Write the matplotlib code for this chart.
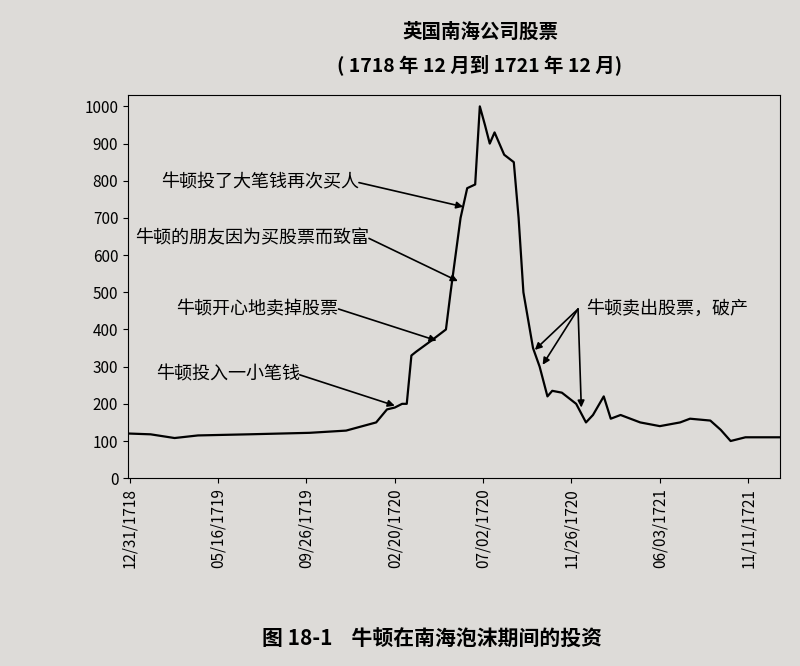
import matplotlib.pyplot as plt
import numpy as np
from datetime import date

plt.rcParams['font.family'] = ['Noto Sans CJK SC', 'DejaVu Sans']

dates = ['1718-12-31', '1719-02-01', '1719-03-10', '1719-04-15', '1719-07-01', '1719-10-01',
         '1719-12-01', '1720-01-20', '1720-02-07', '1720-02-20', '1720-03-02', '1720-03-09',
         '1720-03-16', '1720-03-23', '1720-04-15', '1720-05-07', '1720-05-14', '1720-05-29',
         '1720-06-08', '1720-06-20', '1720-06-27', '1720-07-05', '1720-07-13', '1720-07-21',
         '1720-08-06', '1720-08-22', '1720-08-30', '1720-09-07', '1720-09-23', '1720-10-04',
         '1720-10-17', '1720-10-25', '1720-11-10', '1720-12-06', '1720-12-27', '1721-01-11',
         '1721-02-03', '1721-02-18', '1721-03-11', '1721-04-22', '1721-06-03', '1721-07-10',
         '1721-07-28', '1721-09-03', '1721-09-22', '1721-10-10', '1721-11-06', '1722-01-08']
prices = [120, 118, 108, 115, 118, 122, 128, 150, 185, 190, 200, 200, 330, 340, 370, 400,
          500, 700, 780, 790, 1000, 950, 900, 930, 870, 850, 700, 500, 350, 300, 220, 235,
          230, 200, 150, 170, 220, 160, 170, 150, 140, 150, 160, 155, 130, 100, 110, 110]
tick_dates = ['1718-12-31', '1719-05-16', '1719-09-26', '1720-02-20',
              '1720-07-02', '1720-11-26', '1721-06-03', '1721-11-11']
tick_labels = ['12/31/1718', '05/16/1719', '09/26/1719', '02/20/1720',
               '07/02/1720', '11/26/1720', '06/03/1721', '11/11/1721']


def ordinal(s):
    return date.fromisoformat(str(s)).toordinal()


tick_days = np.array([ordinal(s) for s in tick_dates], dtype=float)
tick_pos = np.arange(len(tick_dates), dtype=float)


def xpos(d):
    # evenly spaced ticks, like the original sampled axis
    single = isinstance(d, str)
    o = np.array([ordinal(x) for x in ([d] if single else d)], dtype=float)
    slope = (tick_pos[-1] - tick_pos[-2]) / (tick_days[-1] - tick_days[-2])
    r = np.interp(o, tick_days, tick_pos)
    r = np.where(o > tick_days[-1], tick_pos[-1] + (o - tick_days[-1]) * slope, r)
    return float(r[0]) if single else r


bg = '#dddbd8'
fig = plt.figure(figsize=(8, 6.66), dpi=100, facecolor=bg)
ax = fig.add_axes([0.16, 0.282, 0.815, 0.575], facecolor=bg)
ax.plot(xpos(dates), prices, color='black', lw=1.6)
ax.set_ylim(0, 1030)
ax.set_yticks(range(0, 1001, 100))
ax.set_xlim(-0.02, xpos('1722-01-08'))
ax.set_xticks(tick_pos)
ax.set_xticklabels(tick_labels, rotation=90, fontsize=11)
ax.tick_params(axis='y', labelsize=11)

fig.text(0.6, 0.943, '英国南海公司股票', ha='center', fontsize=14, fontweight='bold')
fig.text(0.6, 0.893, '( 1718 年 12 月到 1721 年 12 月)', ha='center', fontsize=14, fontweight='bold')
fig.text(0.54, 0.03, '图 18-1    牛顿在南海泡沫期间的投资', ha='center', fontsize=15, fontweight='bold')

arrow = dict(arrowstyle='-|>', color='black', lw=1.2, shrinkA=0, shrinkB=0)
notes = [('牛顿投入一小笔钱', '1719-02-09', 278, '1720-02-20', 195),
         ('牛顿开心地卖掉股票', '1719-03-13', 455, '1720-04-23', 370),
         ('牛顿的朋友因为买股票而致富', '1719-01-08', 645, '1720-05-25', 530),
         ('牛顿投了大笔钱再次买人', '1719-02-17', 795, '1720-06-02', 730)]
for text, tx, ty, px, py in notes:
    t = ax.text(xpos(tx), ty, text, fontsize=13, va='center')
    ax.annotate('', xy=(xpos(px), py), xytext=(1.0, 0.5), textcoords=t,
                arrowprops=arrow)

sell_points = [('1720-09-26', 345), ('1720-10-09', 305), ('1720-12-17', 190)]
for px, py in sell_points:
    ax.annotate('', xy=(xpos(px), py), xytext=(xpos('1720-12-10'), 455),
                arrowprops=arrow)
ax.text(xpos('1720-12-27'), 455, '牛顿卖出股票，破产', fontsize=13, va='center')

fig.savefig('out.png', facecolor=bg)
